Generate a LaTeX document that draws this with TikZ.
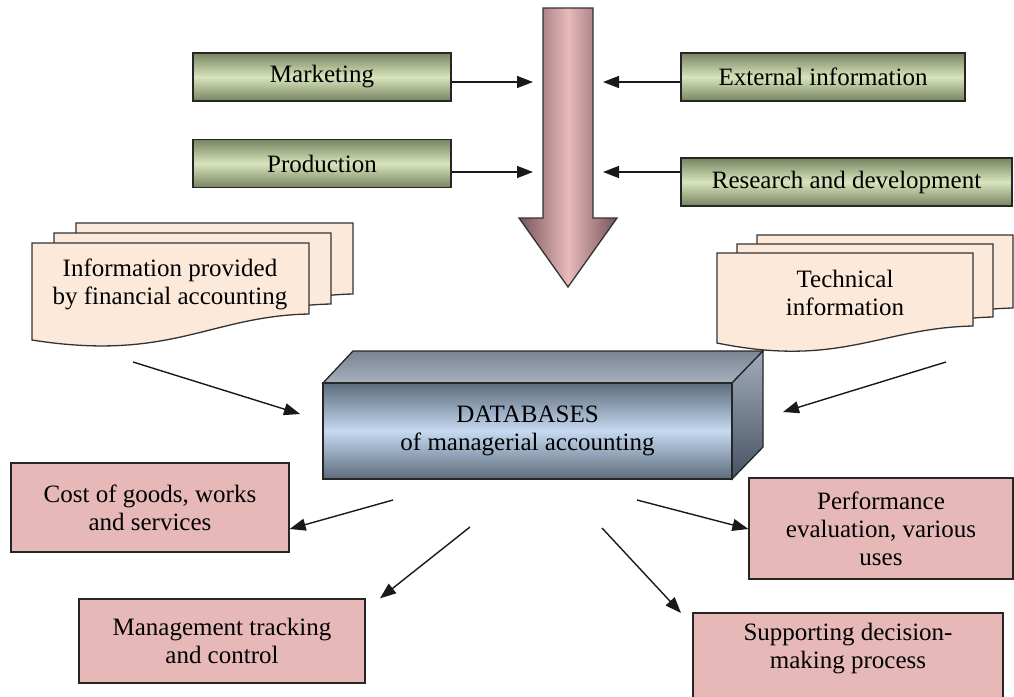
\documentclass[tikz,border=0pt]{standalone}
\usepackage{fontspec}
\setmainfont{Liberation Serif}
\usetikzlibrary{positioning,arrows.meta,calc}
\definecolor{greenmid}{RGB}{216,228,188}
\definecolor{greenedge}{RGB}{118,132,96}
\definecolor{arrowpink}{RGB}{232,186,186}
\definecolor{arrowedge}{RGB}{118,84,92}
\definecolor{docfill}{RGB}{253,233,217}
\definecolor{boxpink}{RGB}{230,185,184}
\definecolor{dbmid}{RGB}{198,217,241}
\definecolor{dbedge}{RGB}{92,108,124}
\definecolor{dbtopA}{RGB}{124,132,146}
\definecolor{dbtopB}{RGB}{166,176,190}
\definecolor{dbsideA}{RGB}{160,172,188}
\definecolor{dbsideB}{RGB}{72,82,98}
\begin{document}
\begin{tikzpicture}[x=1pt, y=-1pt, font=\fontsize{25}{28}\selectfont,
    greenbox/.style={draw=black!85, line width=1.6pt, top color=greenedge, bottom color=greenedge, middle color=greenmid, minimum height=48pt, inner sep=0pt},
    pinkbox/.style={draw=black!85, line width=1.3pt, fill=boxpink, align=center, inner sep=0pt},
    docpage/.style={draw=black!80, line width=1.3pt, fill=docfill},
    link/.style={-{Triangle[length=16pt,width=12pt]}, line width=1.4pt, black!90}]
    \useasboundingbox (0,0) rectangle (1014,696);
    \clip (0,0) rectangle (1014,696);
    % sources at the top
    \node[greenbox, minimum width=258pt] (mkt) at (322,77) {Marketing};
    \node[greenbox, minimum width=258pt] (prod) at (322,163.5) {Production};
    \node[greenbox, minimum width=284pt] (ext) at (823,77) {External information};
    \node[greenbox, minimum width=331pt] (rnd) at (846.5,182) {Research and development};
    \path[draw=black!80, line width=1.3pt, left color=arrowedge, right color=arrowedge, middle color=arrowpink]
        (543,8) -- (593,8) -- (593,218) -- (617,218) -- (568,287) -- (519,218) -- (543,218) -- cycle;
    \coordinate (shaft-l) at (533,0);
    \coordinate (shaft-r) at (603,0);
    \foreach \src/\dy in {mkt/-5,prod/-8.5}{\draw[link] ([yshift=\dy pt]\src.east) -- ([yshift=\dy pt]\src.east -| shaft-l);}
    \draw[link] ([yshift=-5pt]ext.west) -- ([yshift=-5pt]ext.west -| shaft-r);
    \draw[link] ([yshift=10pt]rnd.west) -- ([yshift=10pt]rnd.west -| shaft-r);
    % document stacks
    \foreach \dx/\dy in {44/-20,22/-10,0/0}{\path[docpage, shift={(\dx,\dy)}] (32,243) -- (309,243) -- (309,314) .. controls (210,316) and (170,362) .. (32,340) -- cycle;}
    \foreach \dx/\dy in {40/-18,20/-9,0/0}{\path[docpage, shift={(\dx,\dy)}] (717,253) -- (973,253) -- (973,326) .. controls (880,328) and (840,368) .. (717,343) -- cycle;}
    \node[align=center] (fin) at (170,284) {Information provided\\by financial accounting};
    \node[align=center] (tech) at (845,293) {Technical\\information};
    % database block
    \path[draw=black!85, line width=1.3pt, top color=dbtopA, bottom color=dbtopB] (323,383) -- (353,351) -- (763,351) -- (732,383) -- cycle;
    \path[draw=black!85, line width=1.3pt, top color=dbsideA, bottom color=dbsideB] (732,383) -- (763,351) -- (763,447) -- (732,479) -- cycle;
    \node[draw=black!85, line width=1.3pt, minimum width=409pt, minimum height=96pt, top color=dbedge, bottom color=dbedge, middle color=dbmid, align=center] (db) at (527.5,431) {DATABASES\\of managerial accounting};
    % results
    \node[pinkbox, minimum width=278pt, minimum height=89pt] (cost) at (150,507.5) {Cost of goods, works\\and services};
    \node[pinkbox, minimum width=286pt, minimum height=84pt] (mgmt) at (222,641) {Management tracking\\and control};
    \node[pinkbox, minimum width=264pt, minimum height=101pt] (perf) at (881,528.5) {Performance\\evaluation, various\\uses};
    \path[pinkbox] (693,613) rectangle (1003,712);
    \node[align=center] (supp) at (848,649) {Supporting decision-\\making process};
    % connectors
    \coordinate (fin-out) at (133,362);
    \coordinate (tech-out) at (946,362);
    \coordinate (db-l) at (300,414);
    \coordinate (db-r) at (783,412);
    \draw[link] (fin-out) -- (db-l);
    \draw[link] (tech-out) -- (db-r);
    \coordinate (out-cost) at (393,500);
    \coordinate (out-mgmt) at (470,527);
    \coordinate (out-perf) at (637,500);
    \coordinate (out-supp) at (602,528);
    \draw[link] (out-cost) -- (cost.east |- 0,529);
    \draw[link] (out-mgmt) -- (mgmt.north east -| 380,0);
    \draw[link] (out-perf) -- (perf.west |- 0,529);
    \draw[link] (out-supp) -- (681,613);
\end{tikzpicture}
\end{document}
